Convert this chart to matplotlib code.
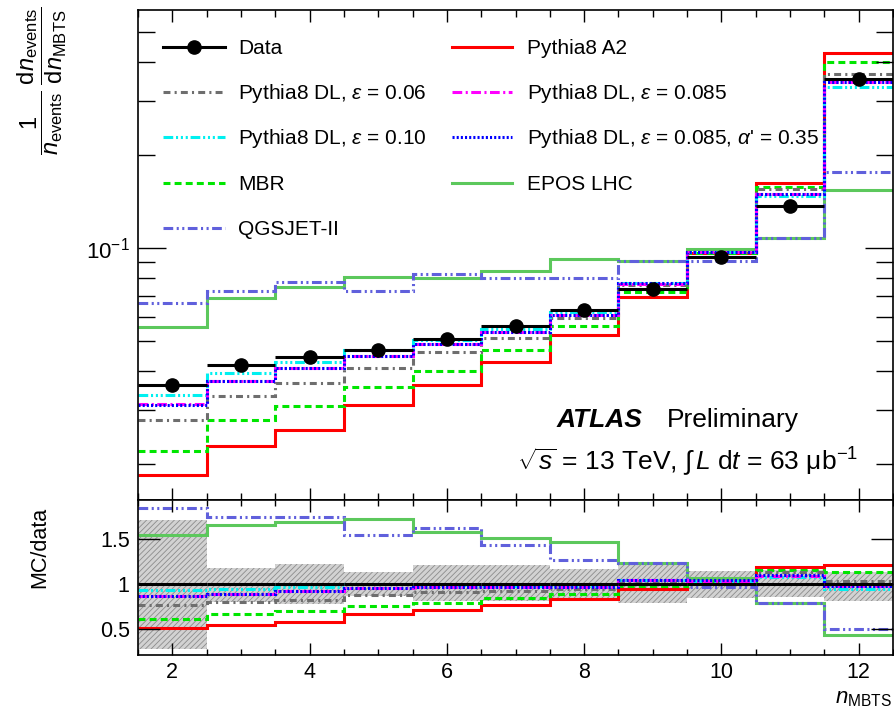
import numpy as np
import matplotlib
matplotlib.use("Agg")
import matplotlib.pyplot as plt
from matplotlib.ticker import MultipleLocator, NullFormatter, FixedLocator, LogLocator
from matplotlib.lines import Line2D

plt.rcParams['font.family'] = ['Liberation Sans', 'DejaVu Sans']
plt.rcParams['mathtext.fontset'] = 'custom'
plt.rcParams['mathtext.rm'] = 'Liberation Sans'
plt.rcParams['mathtext.it'] = 'Liberation Sans:italic'
plt.rcParams['mathtext.bf'] = 'Liberation Sans:bold'
plt.rcParams['lines.scale_dashes'] = False
plt.rcParams['hatch.linewidth'] = 0.6

# ---------------- data ----------------
n_mbts = [2, 3, 4, 5, 6, 7, 8, 9, 10, 11, 12]
bin_edges = [1.5, 2.5, 3.5, 4.5, 5.5, 6.5, 7.5, 8.5, 9.5, 10.5, 11.5, 12.5]

data = [0.0360, 0.0418, 0.0444, 0.0469, 0.0509, 0.0558, 0.0632, 0.0740, 0.0937, 0.137, 0.353]
band_up = [1.708, 1.174, 1.223, 1.136, 1.205, 1.205, 1.167, 1.24, 1.14, 1.148, 1.13]
band_lo = [0.277, 0.80, 0.78, 0.86, 0.81, 0.81, 0.845, 0.79, 0.845, 0.85, 0.81]

pythia_a2 = [0.0184, 0.0228, 0.0258, 0.0310, 0.0361, 0.0427, 0.0525, 0.0696, 0.0965, 0.1625, 0.427]
dl_006 = [0.0277, 0.0332, 0.0366, 0.0410, 0.0461, 0.0513, 0.0596, 0.0760, 0.0970, 0.1555, 0.365]
dl_0085 = [0.0313, 0.0372, 0.0408, 0.0449, 0.0491, 0.0536, 0.0608, 0.0768, 0.0970, 0.1493, 0.346]
dl_010 = [0.0335, 0.0393, 0.0428, 0.0469, 0.0504, 0.0547, 0.0619, 0.0770, 0.0970, 0.1480, 0.332]
dl_0085_a035 = [0.0311, 0.0371, 0.0408, 0.0448, 0.0490, 0.0537, 0.0607, 0.0770, 0.0973, 0.1500, 0.344]
mbr = [0.0220, 0.0278, 0.0309, 0.0354, 0.0400, 0.0469, 0.0559, 0.0723, 0.0965, 0.1576, 0.401]
epos_lhc = [0.0556, 0.0690, 0.0750, 0.0807, 0.0802, 0.0843, 0.0923, 0.0910, 0.0997, 0.1082, 0.1543]
qgsjet = [0.0662, 0.0727, 0.0775, 0.0725, 0.0822, 0.0798, 0.0799, 0.0910, 0.0907, 0.1082, 0.1765]

labels = {
    'data': 'Data',
    'a2': 'Pythia8 A2',
    'dl006': r'Pythia8 DL, $\varepsilon$ = 0.06',
    'dl0085': r'Pythia8 DL, $\varepsilon$ = 0.085',
    'dl010': r'Pythia8 DL, $\varepsilon$ = 0.10',
    'dla': r"Pythia8 DL, $\varepsilon$ = 0.085, $\alpha$' = 0.35",
    'mbr': 'MBR',
    'epos': 'EPOS LHC',
    'qgs': 'QGSJET-II',
}

LW = 2.2
styles = {
    'epos': dict(color='#5cc85c', ls='-'),
    'qgs': dict(color='#6060dc', ls=(0, (7, 2.5, 1.5, 2.5, 1.5, 2.5))),
    'a2': dict(color='#ff0000', ls='-'),
    'mbr': dict(color='#00e600', ls=(0, (5, 3))),
    'dl006': dict(color='#6e6e6e', ls=(0, (5, 3, 1.5, 3))),
    'dl0085': dict(color='#ff00ff', ls=(0, (7, 2.5, 1.5, 2.5))),
    'dl010': dict(color='#00f0f0', ls=(0, (7, 2, 1.5, 2, 1.5, 2, 1.5, 2))),
    'dla': dict(color='#0000ff', ls=(0, (1.5, 1.5))),
}
series = [('epos', epos_lhc), ('qgs', qgsjet), ('a2', pythia_a2), ('mbr', mbr),
          ('dl006', dl_006), ('dl010', dl_010), ('dl0085', dl_0085), ('dla', dl_0085_a035)]

W_PX, H_PX = 894, 712
fig = plt.figure(figsize=(W_PX / 100, H_PX / 100), dpi=100)

def fx(x):
    return x / W_PX

def fy(y):
    return 1 - y / H_PX

L, R = 138, 893
ax = fig.add_axes([fx(L), fy(500), fx(R - L), (500 - 10) / H_PX])
ax2 = fig.add_axes([fx(L), fy(655), fx(R - L), (655 - 500) / H_PX])

data_a = np.array(data)
x = np.array(n_mbts)
edges = np.array(bin_edges)

# main panel
for key, vals in series:
    ax.stairs(vals, edges, baseline=None, lw=LW, color=styles[key]['color'],
              linestyle=styles[key]['ls'], zorder=2)
ax.errorbar(x, data_a, xerr=0.5, fmt='o', color='black', ms=9.5, lw=LW,
            capsize=0, zorder=3)
ax.set_yscale('log')
ax.set_xlim(1.5, 12.5)
ax.set_ylim(0.0153, 0.59)
ax.yaxis.set_major_locator(FixedLocator([0.1]))
ax.yaxis.set_minor_locator(LogLocator(base=10, subs=np.arange(2, 10)))
ax.yaxis.set_minor_formatter(NullFormatter())
ax.set_yticklabels([r'$10^{-1}$'])
ax.xaxis.set_major_locator(MultipleLocator(2))
ax.xaxis.set_minor_locator(MultipleLocator(0.5))
ax.tick_params(axis='x', which='major', direction='in', length=8.6, width=1.0,
               top=True, bottom=True, labelbottom=False)
ax.tick_params(axis='x', which='minor', direction='in', length=5, width=1.0,
               top=True, bottom=True)
ax.tick_params(axis='y', which='major', direction='in', length=20, width=1.0,
               left=True, right=True, labelsize=16, pad=6)
ax.tick_params(axis='y', which='minor', direction='in', length=12, width=1.0,
               left=True, right=True)
ax.set_axisbelow(False)
for s in ax.spines.values():
    s.set_linewidth(1.2)

# ratio panel
lo = np.array(band_lo)
up = np.array(band_up)
ax2.bar(x, up - lo, bottom=lo, width=1.0, color='#d2d2d2', hatch='//////',
        edgecolor='#8c8c8c', linewidth=0, zorder=1)
ax2.errorbar(x, np.ones_like(data_a), xerr=0.5, fmt='none', color='black',
             lw=LW, capsize=0, zorder=3)
for key, vals in series:
    ax2.stairs(np.array(vals) / data_a, edges, baseline=None, lw=LW,
               color=styles[key]['color'], linestyle=styles[key]['ls'], zorder=2)
ax2.set_xlim(1.5, 12.5)
ax2.set_ylim(0.21, 1.93)
ax2.set_yticks([0.5, 1, 1.5])
ax2.set_yticklabels(['0.5', '1', '1.5'])
ax2.xaxis.set_major_locator(MultipleLocator(2))
ax2.xaxis.set_minor_locator(MultipleLocator(0.5))
ax2.set_xticks(n_mbts[::2])
ax2.set_xticklabels([str(v) for v in n_mbts[::2]])
ax2.tick_params(axis='x', which='major', direction='in', length=8.6, width=1.0,
                top=True, bottom=True, labelsize=15.5, pad=5)
ax2.tick_params(axis='x', which='minor', direction='in', length=4, width=1.0,
                top=True, bottom=True)
ax2.tick_params(axis='y', which='major', direction='in', length=16, width=1.0,
                left=True, right=True, labelsize=15.5, pad=6)
ax2.set_axisbelow(False)
for s in ax2.spines.values():
    s.set_linewidth(1.2)

# axis titles
fig.text(fx(42), fy(6),
         r'$\dfrac{1}{n_{\mathrm{events}}}\;\dfrac{\mathrm{d}n_{\mathrm{events}}}{\mathrm{d}n_{\mathrm{MBTS}}}$',
         rotation=90, ha='center', va='top', fontsize=17)
fig.text(fx(40), fy(547), 'MC/data', rotation=90, ha='center', va='center', fontsize=15.5)
fig.text(fx(892), fy(703), r'$n_{\mathrm{MBTS}}$', ha='right', va='baseline', fontsize=16)

# ATLAS label
fig.text(fx(557), fy(427), 'ATLAS', fontsize=19, fontweight='bold', fontstyle='italic',
         va='baseline')
fig.text(fx(667), fy(427), 'Preliminary', fontsize=19, va='baseline')
fig.text(fx(858), fy(470),
         r'$\sqrt{s}$ = 13 TeV, $\int\,L$ d$t$ = 63 μb$^{\mathregular{-1}}$',
         fontsize=19, ha='right', va='baseline')

# legend (manual layout)
rows = [46.7, 91.7, 136.7, 183.3, 228.3]
col1 = ['data', 'dl006', 'dl010', 'mbr', 'qgs']
col2 = ['a2', 'dl0085', 'dla', 'epos']
for col, (x0, x1, xt) in zip([col1, col2], [(163, 225, 238), (452, 512, 527)]):
    for key, yr in zip(col, rows):
        if key == 'data':
            ln = Line2D([fx(x0), fx(x1)], [fy(yr), fy(yr)], color='black', lw=LW,
                        transform=fig.transFigure)
            mk = Line2D([fx((x0 + x1) / 2)], [fy(yr)], color='black', marker='o',
                        ms=9.5, transform=fig.transFigure)
            fig.add_artist(ln)
            fig.add_artist(mk)
        else:
            ln = Line2D([fx(x0), fx(x1)], [fy(yr), fy(yr)], color=styles[key]['color'],
                        lw=LW, linestyle=styles[key]['ls'], transform=fig.transFigure)
            fig.add_artist(ln)
        fig.text(fx(xt), fy(yr + 7), labels[key], fontsize=15, va='baseline', ha='left')

fig.savefig('out.png', dpi=100)
